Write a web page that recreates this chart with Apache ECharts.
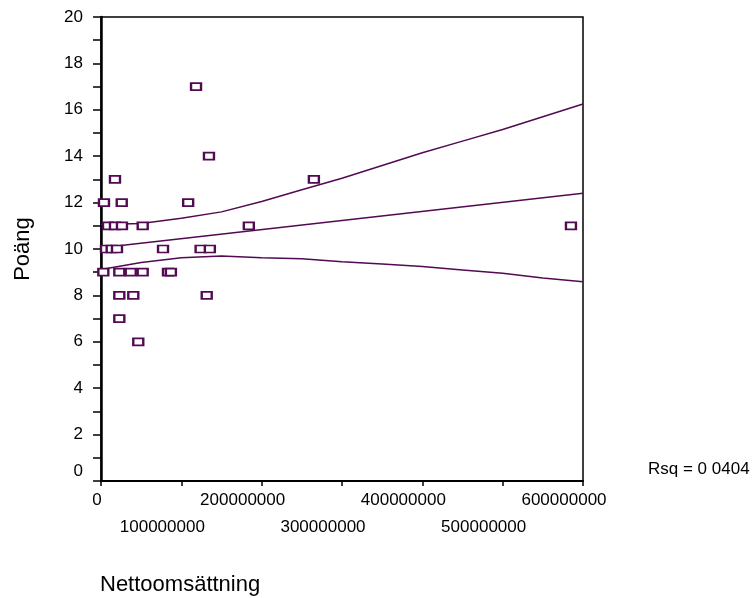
<!DOCTYPE html>
<html>
<head>
    <title></title>
    <meta charset="UTF-8">
    <script type="text/javascript" src="https://cdn.jsdelivr.net/npm/echarts@6/dist/echarts.min.js"></script>
    <style type="text/css">
        body { margin: 0; background: #fff; }
        #chart { width: 755px; height: 598px; }
    </style>
</head>
<body>
<div id="chart"></div>
<script type="text/javascript">
    // Nettoomsättning (kr) och Poäng per företag
    var omsattning = [
        3.7e6, 25.8e6, 108.5e6,
        8.7e6, 17.4e6, 26.1e6, 51.9e6, 184e6, 585e6,
        6.2e6, 13.3e6, 19.9e6, 77.2e6, 124e6, 135.5e6,
        2.9e6, 22.8e6, 37e6, 51.9e6, 83.4e6, 87e6,
        22.8e6, 40.2e6, 131.6e6,
        22.8e6,
        46.4e6,
        17.4e6, 265e6,
        134.4e6,
        118.3e6
    ];
    var poang = [
        12, 12, 12,
        11, 11, 11, 11, 11, 11,
        10, 10, 10, 10, 10, 10,
        9, 9, 9, 9, 9, 9,
        8, 8, 8,
        7,
        6,
        13, 13,
        14,
        17
    ];

    // regressionslinje och konfidensband, avlästa
    var bandX = [0, 50e6, 100e6, 150e6, 200e6, 250e6, 300e6, 350e6, 400e6, 450e6, 500e6, 550e6, 600e6];
    var upper = [11.06, 11.1, 11.33, 11.6, 12.05, 12.55, 13.05, 13.6, 14.15, 14.65, 15.15, 15.7, 16.25];
    var lower = [9.12, 9.42, 9.62, 9.7, 9.62, 9.58, 9.45, 9.35, 9.25, 9.1, 8.95, 8.75, 8.59];
    var fitX = [0, 600e6];
    var fitY = [10.05, 12.4];

    var rsqText = 'Rsq = 0 0404';

    var purple = '#520a52';
    var font = 'Liberation Sans, Arial, sans-serif';

    function pairs(xs, ys) {
        var out = [];
        for (var i = 0; i < xs.length; i++) {
            out.push([xs[i], ys[i]]);
        }
        return out;
    }

    var chart = echarts.init(document.getElementById('chart'));
    chart.setOption({
        animation: false,
        grid: {
            left: 101, right: 172, top: 17, bottom: 117,
            show: true, borderColor: '#000', borderWidth: 1.5
        },
        xAxis: {
            type: 'value',
            min: 0, max: 600e6, interval: 100e6,
            axisLine: { show: true, lineStyle: { color: '#000', width: 2 } },
            axisTick: { show: true, length: 5, lineStyle: { color: '#000', width: 1.5 } },
            splitLine: { show: false },
            axisLabel: {
                color: '#000', fontSize: 17, fontFamily: font, margin: 11,
                showMinLabel: true, showMaxLabel: true, hideOverlap: false,
                formatter: function (v) {
                    if (v === 0) return '{z|0}';
                    var k = Math.round(v / 100e6);
                    return (k % 2 === 1 ? '{bot|' : '{top|') + v + '}';
                },
                rich: {
                    z: { fontSize: 17, fontFamily: font, color: '#000', padding: [0, 8, 0, 0] },
                    top: { fontSize: 17, fontFamily: font, color: '#000', padding: [0, 38, 0, 0] },
                    bot: { fontSize: 17, fontFamily: font, color: '#000', padding: [27, 38, 0, 0] }
                }
            }
        },
        yAxis: {
            type: 'value',
            min: 0, max: 20, interval: 2,
            axisLine: { show: true, lineStyle: { color: '#000', width: 2.5 } },
            axisTick: { show: true, length: 8, lineStyle: { color: '#000', width: 1.5 } },
            minorTick: { show: true, splitNumber: 2, length: 8, lineStyle: { color: '#000', width: 1.5 } },
            splitLine: { show: false },
            axisLabel: {
                color: '#000', fontSize: 17, fontFamily: font, margin: 18,
                formatter: function (v) {
                    return v === 0 ? '{z|0}' : String(v);
                },
                rich: {
                    z: { fontSize: 17, fontFamily: font, color: '#000', padding: [0, 0, 20, 0] }
                }
            },
            name: 'Poäng',
            nameLocation: 'middle',
            nameGap: 67,
            nameTextStyle: { color: '#000', fontSize: 22, fontFamily: font }
        },
        graphic: [
            {
                type: 'text', left: 100, top: 574,
                style: { text: 'Nettoomsättning', fill: '#000', fontSize: 22, fontFamily: font }
            },
            {
                type: 'text', left: 648, top: 461,
                style: { text: rsqText, fill: '#000', fontSize: 17, fontFamily: font }
            }
        ],
        series: [
            {
                type: 'line', data: pairs(bandX, upper), showSymbol: false,
                lineStyle: { color: purple, width: 1.5 }, z: 2
            },
            {
                type: 'line', data: pairs(fitX, fitY), showSymbol: false,
                lineStyle: { color: purple, width: 1.5 }, z: 2
            },
            {
                type: 'line', data: pairs(bandX, lower), showSymbol: false,
                lineStyle: { color: purple, width: 1.5 }, z: 2
            },
            {
                type: 'scatter', data: pairs(omsattning, poang),
                symbol: 'rect', symbolSize: [10, 7],
                itemStyle: { color: '#fff', borderColor: purple, borderWidth: 2, opacity: 1 },
                z: 3
            }
        ]
    });
</script>
</body>
</html>
